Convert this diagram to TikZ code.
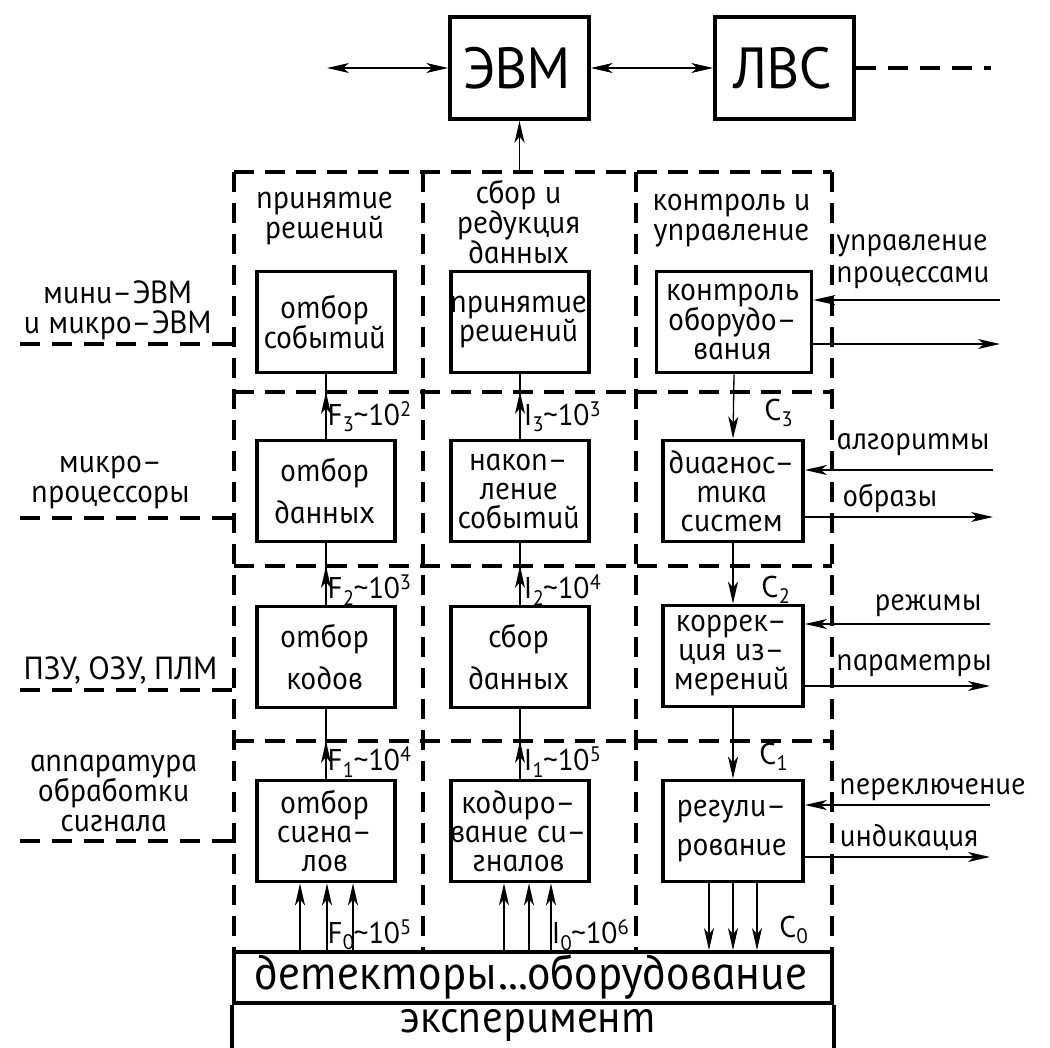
\documentclass[tikz,border=0pt]{standalone}
\usepackage{fontspec}
\setmainfont{PT Sans Italic}[FakeSlant=-0.22]
\usetikzlibrary{arrows.meta}
\tikzset{
  blk/.style={draw, line width=3.8pt, minimum width=138pt, minimum height=101pt, inner sep=0pt, align=center, font=\fontsize{32}{29}\selectfont},
  topblk/.style={draw, line width=3.5pt, minimum width=139pt, minimum height=102pt, inner sep=0pt, font=\fontsize{58}{60}\selectfont},
  txt/.style={align=center, inner sep=0pt, font=\fontsize{32}{30}\selectfont},
  rtxt/.style={align=left, anchor=west, inner sep=0pt, font=\fontsize{31}{32}\selectfont},
  lbl/.style={anchor=west, inner sep=0pt, font=\fontsize{30}{30}\selectfont},
  frm/.style={line width=3.8pt, dash pattern=on 20pt off 11pt},
  lead/.style={line width=3.2pt, dash pattern=on 20pt off 12pt},
  conn/.style={line width=1.3pt},
  arr/.style={line width=1.3pt, -{Stealth[length=22pt,width=10pt,inset=6pt]}},
  darr/.style={line width=1.3pt, {Stealth[length=22pt,width=10pt,inset=6pt]}-{Stealth[length=22pt,width=10pt,inset=6pt]}},
}
\begin{document}
\begin{tikzpicture}[x=1pt,y=-1pt]
\useasboundingbox (0,0) rectangle (1050,1048);
% top row
\node[topblk] (evm) at (519.5,68) {ЭВМ};
\node[topblk] (lvs) at (784.5,68) {ЛВС};
\coordinate (tl) at (327,68);
\coordinate (tr) at (991,68);
\draw[darr] (tl) -- (evm.west);
\draw[darr] (evm.east) -- (lvs.west);
\draw[lead] (lvs.east) -- (tr);
% frame coordinates
\coordinate (fa) at (234,172); \coordinate (fb) at (423,172);
\coordinate (fc) at (636,172); \coordinate (fd) at (832,172);
\coordinate (d1) at (0,392); \coordinate (d2) at (0,566); \coordinate (d3) at (0,741);
% detector / experiment
\node[draw, line width=3.8pt, minimum width=598pt, minimum height=51pt, inner sep=0pt, font=\fontsize{48}{48}\selectfont] (det) at (533,977.5) {детекторы...оборудование};
\draw[line width=3.8pt] (det.south west) -- ++(0,60);
\draw[line width=3.8pt] (det.south east) -- ++(0,60);
\node[inner sep=0pt, font=\fontsize{45}{46}\selectfont] (exp) at (530,1025) {эксперимент};
% dashed grid
\draw[frm] (fa) -- (fd);
\draw[frm] (fa) -- (fa |- det.north);
\draw[frm] (fb) -- (fb |- det.north);
\draw[frm] (fc) -- (fc |- det.north);
\draw[frm] (fd) -- (fd |- det.north);
\draw[frm] (fa |- d1) -- (fd |- d1);
\draw[frm] (fa |- d2) -- (fd |- d2);
\draw[frm] (fa |- d3) -- (fd |- d3);
\draw[arr] (evm.south |- fa) -- (evm.south);
% headings
\node[txt] (h1) at (326,219) {принятие\\решений};
\node[txt] (h2) at (520,222) {сбор и\\редукция\\данных};
\node[txt] (h3) at (733,221) {контроль и\\управление};
% column 1
\node[blk] (a1) at (326,322) {отбор\\событий};
\node[blk] (a2) at (326,491) {отбор\\[11pt]данных};
\node[blk] (a3) at (326,657) {отбор\\[11pt]кодов};
\node[blk] (a4) at (326,831) {отбор\\сигна–\\лов};
% column 2
\node[blk] (b1) at (520,322) {принятие\\решений};
\node[blk] (b2) at (520,491) {накоп–\\ление\\событий};
\node[blk] (b3) at (520,657) {сбор\\[11pt]данных};
\node[blk] (b4) at (520,831) {кодиро–\\вание си–\\гналов};
% column 3
\node[blk, minimum width=155pt] (c1) at (734,322) {контроль\\оборудо–\\вания};
\node[blk, minimum width=140pt] (c2) at (733,491) {диагнос–\\тика\\систем};
\node[blk, minimum width=140pt] (c3) at (733,656) {коррек–\\ция из–\\мерений};
\node[blk, minimum width=140pt] (c4) at (733,831) {регули–\\[10pt]рование};
% up arrows col 1 and 2
\foreach \lo/\hi/\d in {a2/a1/d1, a3/a2/d2, a4/a3/d3, b2/b1/d1, b3/b2/d2, b4/b3/d3}{
  \draw[conn] (\lo.north) -- (\hi.south);
  \draw[arr] (\lo.north) -- (\lo.north |- \d);
}
% detector arrows
\foreach \n/\s in {a4/-26, a4/1, a4/27, b4/-16, b4/9, b4/31}{
  \path ([xshift=\s pt]\n.south) coordinate (p);
  \draw[arr] (p |- det.north) -- (p);
}
\foreach \s in {-24, 0, 24}{
  \path ([xshift=\s pt]c4.south) coordinate (p);
  \draw[arr] (p) -- (p |- det.north);
}
% column 3 down arrows
\draw[arr] (c1.south) -- (c2.north);
\draw[arr] (c2.south) -- (c3.north);
\draw[arr] (c3.south) -- (c4.north);
% frequency labels
\node[lbl] (f3) at (329,417) {F\textsubscript{3}\textasciitilde10\textsuperscript{2}};
\node[lbl] (f2) at (329,590) {F\textsubscript{2}\textasciitilde10\textsuperscript{3}};
\node[lbl] (f1) at (329,762) {F\textsubscript{1}\textasciitilde10\textsuperscript{4}};
\node[lbl] (f0) at (329,935) {F\textsubscript{0}\textasciitilde10\textsuperscript{5}};
\node[lbl] (i3) at (525,417) {I\textsubscript{3}\textasciitilde10\textsuperscript{3}};
\node[lbl] (i2) at (525,590) {I\textsubscript{2}\textasciitilde10\textsuperscript{4}};
\node[lbl] (i1) at (525,762) {I\textsubscript{1}\textasciitilde10\textsuperscript{5}};
\node[lbl] (i0) at (553,935) {I\textsubscript{0}\textasciitilde10\textsuperscript{6}};
\node[lbl] (k3) at (766,413) {C\textsubscript{3}};
\node[lbl] (k2) at (763,590) {C\textsubscript{2}};
\node[lbl] (k1) at (761,757) {C\textsubscript{1}};
\node[lbl] (k0) at (781,930) {C\textsubscript{0}};
% left labels and leads
\node[txt] (l1) at (119,310) {мини–ЭВМ\\и микро–ЭВМ};
\node[txt] (l2) at (112,483) {микро–\\процессоры};
\node[txt] (l3) at (122,670) {ПЗУ, ОЗУ, ПЛМ};
\node[txt] (l4) at (115,793) {аппаратура\\обработки\\сигнала};
\foreach \y in {344,518,690,841}{
  \coordinate (q) at (20,\y);
  \draw[lead] (q) -- (q -| fa);
}
% right side
\node[rtxt] (r1) at (838,262) {управление\\процессами};
\node[rtxt] (r2) at (838,445) {алгоритмы};
\node[rtxt] (r3) at (844,498) {образы};
\node[rtxt] (r4) at (876,606) {режимы};
\node[rtxt] (r5) at (838,666) {параметры};
\node[rtxt] (r6) at (841,790) {переключение};
\node[rtxt] (r7) at (841,837) {индикация};
\foreach \n/\yi/\yo/\xr in {c1/300/344/1000, c2/470/517/993, c3/624/686/990, c4/805/857/990}{
  \coordinate (ui) at (\xr,\yi);
  \coordinate (uo) at (\xr,\yo);
  \draw[arr] (ui) -- (ui -| \n.east);
  \draw[arr] (uo -| \n.east) -- (uo);
}
\end{tikzpicture}
\end{document}
